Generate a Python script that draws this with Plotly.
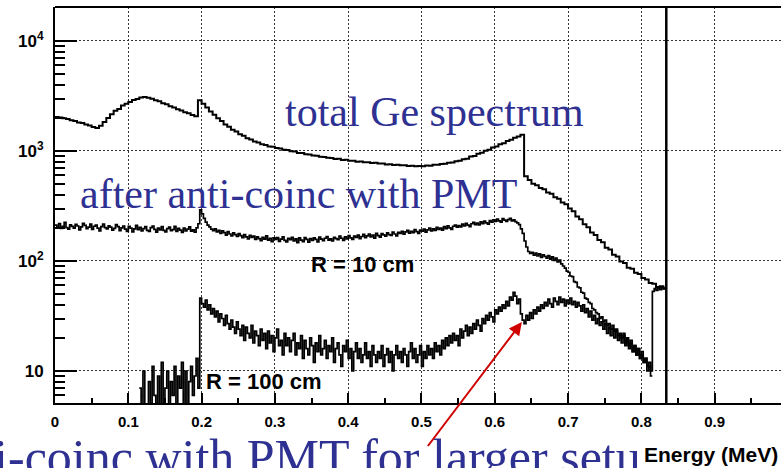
import numpy as np
import plotly.graph_objects as go

# Histogram binning (MeV)
COARSE_BIN = 0.005
FINE_BIN = 0.0025
PHOTOPEAK_MEV = 0.834

# Total Ge spectrum, 5 keV bins starting at 0 MeV
total_start = 0.0
total_counts = [
    2040, 2015, 1980, 1955, 1900, 1875, 1815, 1795, 1740, 1705,
    1655, 1615, 1700, 1830, 1990, 2160, 2320, 2410, 2590, 2690,
    2790, 2910, 2970, 3060, 3100, 3040, 2990, 2890, 2830, 2720,
    2660, 2550, 2480, 2390, 2330, 2250, 2200, 2120, 2070, 2900,
    2690, 2490, 2290, 2140, 1980, 1870, 1740, 1660, 1560, 1500,
    1420, 1375, 1305, 1275, 1220, 1195, 1150, 1135, 1100, 1090,
    1065, 1055, 1025, 1020, 995, 990, 960, 958, 935, 930,
    910, 905, 885, 882, 866, 862, 846, 848, 830, 831,
    815, 815, 800, 803, 790, 791, 778, 780, 768, 770,
    755, 759, 746, 750, 740, 742, 731, 736, 726, 731,
    727, 738, 734, 749, 748, 763, 764, 781, 785, 808,
    815, 843, 852, 889, 902, 944, 962, 1005, 1028, 1075,
    1098, 1150, 1178, 1232, 1262, 1322, 1352, 1405, 590, 545,
    505, 488, 460, 448, 420, 408, 380, 368, 340, 328,
    300, 283, 254, 240, 216, 203, 182, 172, 155, 148,
    132, 127, 114, 110, 99, 96, 87, 85, 78, 76,
    70, 68, 63, 62, 58, 59, 56,
]

# After anti-coincidence with PMT, R = 10 cm (2.5 keV bins from 0 MeV)
pmt10_start = 0.0
pmt10_counts = [
    212, 203, 219, 198, 207, 224, 201, 195, 213, 206,
    199, 215, 208, 192, 204, 220, 211, 197, 203, 216,
    194, 207, 212, 199, 188, 205, 217, 201, 196, 209,
    203, 191, 198, 214, 205, 189, 200, 208, 195, 186,
    207, 199, 184, 196, 211, 193, 202, 188, 197, 205,
    190, 186, 201, 208, 194, 183, 199, 192, 205, 190,
    184, 197, 203, 189, 193, 206, 186, 198, 191, 182,
    199, 188, 195, 204, 187, 192, 183, 200, 218, 292,
    268, 244, 226, 212, 204, 195, 189, 196, 184, 190,
    178, 188, 181, 172, 185, 176, 169, 180, 174, 167,
    177, 170, 163, 174, 166, 159, 171, 164, 168, 157,
    166, 160, 153, 164, 158, 169, 155, 161, 150, 162,
    157, 163, 151, 158, 166, 154, 149, 161, 156, 164,
    152, 159, 147, 162, 155, 150, 163, 157, 148, 160,
    154, 162, 157, 149, 165, 158, 153, 161, 167, 155,
    159, 152, 164, 160, 156, 168, 161, 154, 166, 159,
    170, 162, 157, 168, 164, 172, 160, 167, 175, 163,
    169, 176, 166, 172, 161, 178, 170, 165, 177, 173,
    168, 180, 174, 171, 183, 176, 169, 182, 178, 186,
    175, 184, 190, 179, 186, 181, 193, 185, 178, 191,
    187, 195, 183, 192, 199, 188, 196, 190, 202, 194,
    199, 191, 205, 197, 209, 200, 194, 207, 212, 203,
    210, 204, 216, 208, 220, 212, 205, 218, 224, 214,
    221, 213, 227, 219, 230, 222, 216, 233, 225, 237,
    229, 240, 232, 226, 243, 235, 229, 238, 244, 232,
    236, 228, 222, 214, 196, 178, 152, 134, 122, 117,
    120, 113, 118, 111, 116, 108, 114, 110, 106, 112,
    104, 109, 101, 106, 98, 102, 94, 90, 86, 81,
    79, 73, 72, 65, 64, 58, 57, 52, 51, 46,
    45, 42, 41, 37, 36, 34, 33, 30, 31, 28,
    29, 26, 27, 24, 26, 23, 24, 21, 22, 20,
    21, 18, 19, 17, 18, 15, 17, 14, 16, 13,
    14, 12, 13, 11, 12, 10, 53, 56, 54, 57,
    55, 58, 56, 57,
]

# After anti-coincidence with PMT, R = 100 cm (2.5 keV bins from 0.115 MeV)
pmt100_start = 0.115
pmt100_counts = [
    7, 3, 10, 5, 2, 8, 4, 11, 6, 3,
    9, 5, 12, 4, 7, 10, 3, 8, 6, 11,
    4, 9, 7, 12, 5, 10, 3, 8, 11, 6,
    9, 13, 7, 46, 41, 38, 44, 36, 40, 33,
    37, 31, 35, 28, 33, 30, 26, 32, 27, 24,
    29, 25, 22, 28, 24, 21, 26, 19, 25, 22,
    20, 26, 18, 23, 21, 17, 24, 19, 22, 16,
    23, 18, 21, 15, 20, 24, 17, 19, 14, 22,
    17, 20, 15, 19, 22, 14, 18, 16, 21, 13,
    19, 16, 14, 20, 17, 12, 18, 15, 21, 14,
    16, 19, 13, 17, 15, 20, 12, 16, 18, 14,
    11, 17, 15, 19, 13, 16, 10, 15, 18, 13,
    16, 12, 14, 18, 13, 15, 11, 17, 14, 12,
    15, 13, 17, 11, 14, 16, 12, 15, 10, 14,
    17, 13, 15, 12, 16, 14, 11, 15, 18, 13,
    16, 12, 14, 17, 11, 15, 13, 17, 14, 16,
    13, 18, 15, 17, 14, 19, 16, 20, 17, 21,
    18, 22, 19, 21, 17, 24, 20, 23, 26, 21,
    25, 22, 27, 24, 29, 26, 23, 30, 27, 32,
    29, 34, 31, 28, 36, 33, 38, 35, 40, 37,
    43, 39, 47, 44, 52, 48, 41, 45, 33, 29,
    27, 32, 29, 34, 30, 36, 33, 38, 35, 40,
    37, 42, 39, 45, 41, 38, 46, 43, 40, 47,
    42, 45, 39, 44, 41, 46, 40, 43, 38, 42,
    39, 35, 40, 34, 37, 31, 35, 29, 32, 27,
    30, 26, 28, 24, 27, 22, 25, 21, 24, 20,
    23, 19, 21, 18, 22, 17, 20, 16, 19, 15,
    17, 14, 16, 13, 15, 12, 13, 10, 11, 9,
]

x_ticks = [0, 0.1, 0.2, 0.3, 0.4, 0.5, 0.6, 0.7, 0.8, 0.9]
x_tick_text = ["0", "0.1", "0.2", "0.3", "0.4", "0.5", "0.6", "0.7", "0.8", "0.9"]
y_ticks = [10, 100, 1000, 10000]
y_tick_text = ["10", "10<sup>2</sup>", "10<sup>3</sup>", "10<sup>4</sup>"]

BLUE = "#2E3192"
TEXT_SERIF = "Liberation Serif"
TEXT_SANS = "Liberation Sans"


def step_xy(start, width, counts, last_edge=None):
    edges = [start + width * i for i in range(len(counts))]
    end = last_edge if last_edge is not None else edges[-1] + width
    return edges + [end], list(counts) + [counts[-1]]


fig = go.Figure()
for start, width, counts, last, lw in [
    (total_start, COARSE_BIN, total_counts, PHOTOPEAK_MEV, 2.0),
    (pmt10_start, FINE_BIN, pmt10_counts, PHOTOPEAK_MEV, 1.7),
    (pmt100_start, FINE_BIN, pmt100_counts, None, 1.7),
]:
    xs, ys = step_xy(start, width, counts, last)
    fig.add_trace(go.Scatter(
        x=xs, y=ys, mode="lines", line=dict(color="black", width=lw, shape="hv"),
        showlegend=False, hoverinfo="skip",
    ))

# Full-energy peak runs off scale
fig.add_shape(type="line", xref="x", yref="paper", x0=PHOTOPEAK_MEV, x1=PHOTOPEAK_MEV,
              y0=0, y1=1, line=dict(color="black", width=2.5))
# Top frame
fig.add_shape(type="line", xref="paper", yref="paper", x0=0, x1=1, y0=1, y1=1,
              line=dict(color="black", width=2))

x_minor = [round(0.05 + 0.1 * i, 2) for i in range(10)]
y_minor = [m * 10 ** d for d in range(0, 5) for m in range(2, 10) if 5 < m * 10 ** d < 21000]

fig.update_xaxes(
    range=[0, 0.9905], tickvals=x_ticks, ticktext=x_tick_text,
    ticks="inside", ticklen=10, tickwidth=1.5, tickcolor="black",
    showline=True, linecolor="black", linewidth=2, zeroline=False,
    showgrid=True, gridcolor="#333333", griddash="2px,2px", gridwidth=1,
    tickfont=dict(family=TEXT_SANS, size=15, color="black", weight="bold"),
    ticklabelstandoff=4,
    minor=dict(tickvals=x_minor, ticks="inside", ticklen=5, tickwidth=1.5,
               tickcolor="black", showgrid=False),
)
fig.update_yaxes(
    type="log", range=[0.709, 4.309], tickvals=y_ticks, ticktext=y_tick_text,
    ticks="inside", ticklen=22, tickwidth=2, tickcolor="black",
    showline=True, linecolor="black", linewidth=2, zeroline=False,
    showgrid=True, gridcolor="#333333", griddash="2px,2px", gridwidth=1,
    tickfont=dict(family=TEXT_SANS, size=17, color="black", weight="bold"),
    ticklabelstandoff=6,
    minor=dict(tickvals=y_minor, ticks="inside", ticklen=10, tickwidth=1.5,
               tickcolor="black", showgrid=False),
)

annotations = [
    dict(text="total Ge spectrum", xref="paper", yref="paper", x=0.314, y=0.735,
         xanchor="left", yanchor="middle", showarrow=False,
         font=dict(family=TEXT_SERIF, size=42, color=BLUE)),
    dict(text="after anti-coinc with PMT", xref="paper", yref="paper", x=0.0317, y=0.528,
         xanchor="left", yanchor="middle", showarrow=False,
         font=dict(family=TEXT_SERIF, size=42, color=BLUE)),
    dict(text="anti-coinc with PMT for larger setup", xref="paper", yref="paper", x=-0.171, y=-0.137,
         xanchor="left", yanchor="middle", showarrow=False,
         font=dict(family=TEXT_SERIF, size=50, color=BLUE)),
    dict(text="R = 10 cm", xref="x", yref="y", x=0.419, y=np.log10(92),
         xanchor="center", yanchor="middle", showarrow=False,
         font=dict(family=TEXT_SANS, size=22, color="black", weight="bold")),
    dict(text="R = 100 cm", xref="x", yref="y", x=0.2845, y=np.log10(8.1),
         xanchor="center", yanchor="middle", showarrow=False,
         font=dict(family=TEXT_SANS, size=22, color="black", weight="bold")),
    dict(text="Energy (MeV)", xref="paper", yref="paper", x=1.0, y=-0.131,
         xanchor="right", yanchor="middle", showarrow=False, bgcolor="white",
         borderpad=2,
         font=dict(family=TEXT_SANS, size=21, color="black", weight="bold")),
    dict(text=" ", xref="x", yref="y", x=0.637, y=np.log10(27.9),
         ax=-97, ay=128, showarrow=True, arrowhead=2, arrowsize=1.3,
         arrowwidth=2, arrowcolor="#D00000", standoff=0),
]

fig.update_layout(
    width=781, height=468,
    margin=dict(l=55, r=0, t=7, b=65),
    paper_bgcolor="white", plot_bgcolor="white",
    annotations=annotations,
    showlegend=False,
)

fig.write_html("out.html")
